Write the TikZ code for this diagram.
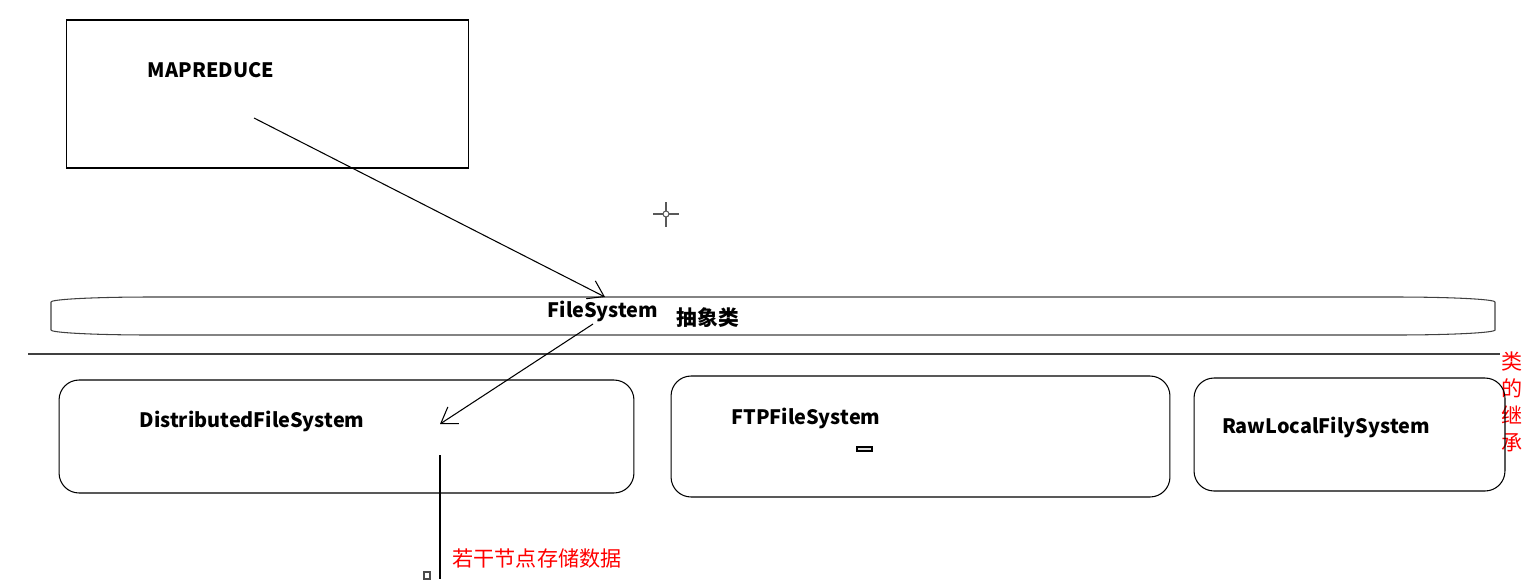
\documentclass[tikz,border=0pt]{standalone}
\usepackage{fontspec}
\setmainfont{Noto Sans CJK SC}
\usetikzlibrary{arrows.meta}
\tikzset{
  frame/.style={draw,line width=0.6pt,inner sep=0pt},
  classbox/.style={frame,rounded corners=0.4cm},
  title/.style={font=\bfseries\fontsize{11.3}{13}\selectfont},
  note/.style={text=red,font=\fontsize{12}{15.4}\selectfont}
}
\begin{document}
\begin{tikzpicture}[x=0.02cm,y=-0.02cm,line width=0.6pt,>={Straight Barb[length=0.3cm,width=0.4cm]}]
\useasboundingbox (0,0) rectangle (1535,579);
% upper part
\node[frame,minimum width=8.06cm,minimum height=2.96cm] (mapreduce) at (267.5,94) {};
\node[title] (mrtext) at (211,70) {MAPREDUCE};
\node[inner sep=0pt,minimum width=28.88cm,minimum height=0.76cm] (filesystem) at (773,316) {};
\draw[gray!50!black] (151,297) -- (1395,297) arc (90:0:2cm and 0.1cm) -- (1495,330)
  arc (0:-90:2cm and 0.1cm) -- (151,335) arc (270:180:2cm and 0.1cm) -- (51,302)
  arc (180:90:2cm and 0.1cm) -- cycle;
\node[title] (fstext) at (603,311) {FileSystem};
\node[title,font=\bfseries\fontsize{11.8}{13}\selectfont] (abstract) at (708,318) {抽象类};
\coordinate (mrsrc) at (254,118);
\coordinate (fstop) at (605,297);
\draw[->] (mrsrc) -- (fstop);
% crosshair
\draw[gray!70!black] (666,214) circle (0.06cm);
\draw[gray!70!black] (653,214) -- (663,214) (669,214) -- (679,214)
  (666,202) -- (666,211) (666,217) -- (666,227);
% separator
\coordinate (sepL) at (28,354);
\coordinate (sepR) at (1500,354);
\draw[gray!50!black] (sepL) -- (sepR);
\node[note,align=center,inner sep=0pt] (inherit) at (1512,402) {类\\的\\继\\承};
% subclasses
\node[classbox,minimum width=11.5cm,minimum height=2.26cm] (dfs) at (346.5,436.5) {};
\node[title] (dfstext) at (252,421) {DistributedFileSystem};
\node[classbox,minimum width=9.98cm,minimum height=2.42cm] (ftp) at (920.5,436.5) {};
\node[title] (ftptext) at (806,418) {FTPFileSystem};
\node[classbox,minimum width=6.22cm,minimum height=2.26cm] (rawlocal) at (1349.5,434.5) {};
\node[title] (rawtext) at (1326,427) {RawLocalFilySystem};
\draw[fill=gray!25] (857,447) rectangle (872,451);
\coordinate (fsout) at (593,324);
\coordinate (dfsin) at (440,424);
\draw[->] (fsout) -- (dfsin);
\coordinate (dfsout) at (440,455);
\coordinate (nodes) at (440,579);
\draw (dfsout) -- (nodes);
\draw[gray!60!black] (424,572) rectangle (430,579);
\node[note] (store) at (537,558) {若干节点存储数据};
\end{tikzpicture}
\end{document}
